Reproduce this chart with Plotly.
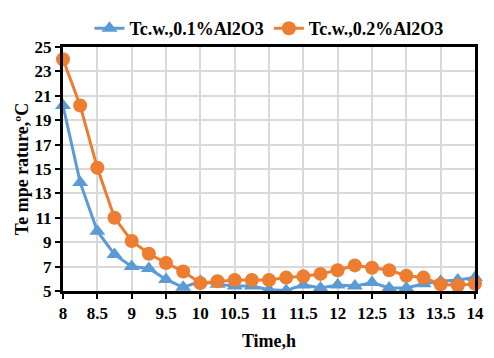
import plotly.graph_objects as go

time_h = [8, 8.25, 8.5, 8.75, 9, 9.25, 9.5, 9.75, 10, 10.25, 10.5, 10.75, 11, 11.25,
          11.5, 11.75, 12, 12.25, 12.5, 12.75, 13, 13.25, 13.5, 13.75, 14]
t_01 = [20.2, 13.9, 9.9, 8.0, 7.0, 6.85, 5.95, 5.3, 5.8, 5.55, 5.4, 5.4, 5.1, 5.05,
        5.5, 5.25, 5.5, 5.4, 5.7, 5.25, 5.25, 5.6, 5.8, 5.9, 6.1]
t_02 = [24.0, 20.2, 15.1, 11.0, 9.1, 8.05, 7.3, 6.6, 5.65, 5.8, 5.9, 5.9, 5.9, 6.1,
        6.2, 6.4, 6.7, 7.1, 6.9, 6.7, 6.25, 6.1, 5.55, 5.45, 5.6]
x_ticks = [8, 8.5, 9, 9.5, 10, 10.5, 11, 11.5, 12, 12.5, 13, 13.5, 14]
y_ticks = [5, 7, 9, 11, 13, 15, 17, 19, 21, 23, 25]

font_family = "Liberation Serif"

fig = go.Figure()
fig.add_trace(go.Scatter(
    x=time_h, y=t_01, mode="lines+markers", name="Tc.w.,0.1%Al2O3",
    line=dict(color="#5B9BD5", width=3),
    marker=dict(symbol="triangle-up", size=14, color="#5B9BD5"),
    cliponaxis=False,
))
fig.add_trace(go.Scatter(
    x=time_h, y=t_02, mode="lines+markers", name="Tc.w.,0.2%Al2O3",
    line=dict(color="#ED7D31", width=3),
    marker=dict(symbol="circle", size=14, color="#ED7D31"),
    cliponaxis=False,
))

fig.update_layout(
    width=494, height=358,
    margin=dict(l=63, r=10, t=43, b=65),
    paper_bgcolor="white", plot_bgcolor="white",
    font=dict(family=font_family, color="black"),
    legend=dict(
        orientation="h", x=0.5, xanchor="center", y=1.0, yanchor="bottom",
        font=dict(family=font_family, size=18, color="black", weight="bold"),
        bgcolor="rgba(0,0,0,0)", tracegroupgap=0,
    ),
    xaxis=dict(
        range=[8, 14], tickvals=x_ticks, ticktext=[str(v) for v in x_ticks],
        showgrid=True, gridcolor="#D9D9D9", gridwidth=2,
        showline=True, linecolor="black", linewidth=3, mirror=True,
        ticks="outside", ticklen=5, tickwidth=2, tickcolor="black",
        tickfont=dict(family=font_family, size=17, color="black", weight="bold"),
        title=dict(text="Time,h", standoff=12,
                   font=dict(family=font_family, size=18, color="black", weight="bold")),
        zeroline=False,
    ),
    yaxis=dict(
        range=[5, 25], tickvals=y_ticks, ticktext=[str(v) for v in y_ticks],
        showgrid=True, gridcolor="#D9D9D9", gridwidth=2,
        showline=True, linecolor="black", linewidth=3, mirror=True,
        ticks="outside", ticklen=5, tickwidth=2, tickcolor="black",
        tickfont=dict(family=font_family, size=17, color="black", weight="bold"),
        title=dict(text="Te mpe rature,ºC", standoff=2,
                   font=dict(family=font_family, size=18, color="black", weight="bold")),
        zeroline=False,
    ),
)

fig.write_html("out.html")
